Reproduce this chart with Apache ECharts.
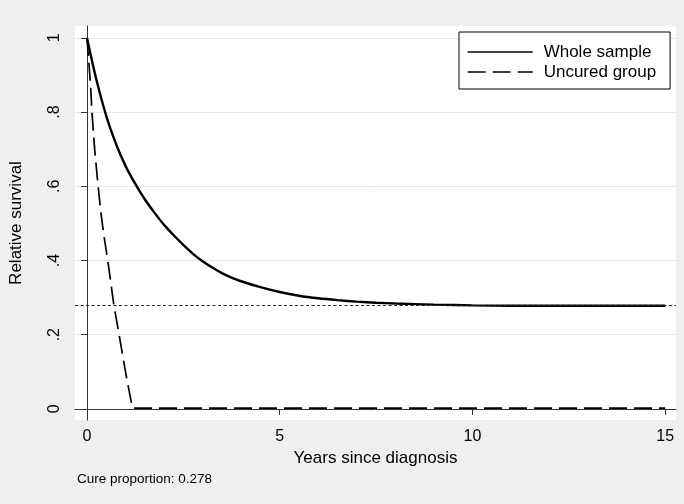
<!DOCTYPE html>
<html>
<head>
<meta charset="utf-8">
<script src="https://cdn.jsdelivr.net/npm/echarts@6/dist/echarts.min.js"></script>
<style>
html,body{margin:0;padding:0;background:#efefef;}
#c{width:684px;height:504px;}
</style>
</head>
<body>
<div id="c"></div>
<script>
// Data
var wholeYears = [0, 0.25, 0.5, 0.75, 1.0, 1.25, 1.5, 1.75, 2.0, 2.25, 2.5, 2.75, 3.0, 3.25, 3.5, 3.75, 4.0, 4.5, 5.0, 5.5, 6.0, 6.5, 7.0, 7.5, 8.0, 9.0, 10.0, 11.0, 12.0, 13.0, 14.0, 15.0];
var wholeSurv  = [1.0, 0.885, 0.79, 0.715, 0.655, 0.607, 0.565, 0.529, 0.496, 0.468, 0.442, 0.418, 0.398, 0.381, 0.366, 0.354, 0.344, 0.328, 0.315, 0.305, 0.298, 0.293, 0.289, 0.286, 0.284, 0.281, 0.279, 0.278, 0.278, 0.278, 0.278, 0.278];
var uncuredYears = [0, 0.03, 0.06, 0.1, 0.13, 0.2, 0.28, 0.36, 0.45, 0.54, 0.62, 0.70, 0.8, 0.9, 1.0, 1.1, 1.18, 3, 6, 9, 12, 15];
var uncuredSurv  = [1.0, 0.96, 0.92, 0.86, 0.80, 0.70, 0.61, 0.53, 0.46, 0.40, 0.34, 0.278, 0.22, 0.16, 0.10, 0.045, 0.002, 0.002, 0.002, 0.002, 0.002, 0.002];
var cureProportion = 0.278;
var xTicks = [0, 5, 10, 15];
var yTicks = [0, 0.2, 0.4, 0.6, 0.8, 1];
var yTickLabels = ["0", ".2", ".4", ".6", ".8", "1"];
var seriesNames = ["Whole sample", "Uncured group"];

function pairs(xs, ys) { return xs.map(function (x, i) { return [x, ys[i]]; }); }

var FONT = "Liberation Sans";
var chart = echarts.init(document.getElementById('c'), null, {renderer: 'canvas'});
chart.setOption({
  backgroundColor: '#efefef',
  animation: false,
  textStyle: {fontFamily: FONT, color: '#000'},
  grid: {left: 74, top: 26, right: 8, bottom: 84, show: true, backgroundColor: '#fff', borderWidth: 0},
  legend: {
    orient: 'vertical', left: 459, top: 32,
    data: seriesNames,
    backgroundColor: '#fff', borderColor: '#000', borderWidth: 1, borderRadius: 0,
    padding: [10, 14, 7, 8],
    itemWidth: 65, itemHeight: 14, itemGap: 0,
    lineStyle: {width: 1.3},
    itemStyle: {opacity: 0},
    textStyle: {fontFamily: FONT, fontSize: 17, color: '#000', lineHeight: 20, padding: [0, 0, 0, 6]}
  },
  xAxis: {
    type: 'value', min: -0.31, max: 15.28,
    name: 'Years since diagnosis', nameLocation: 'middle', nameGap: 27,
    nameTextStyle: {fontFamily: FONT, fontSize: 17, color: '#000', verticalAlign: 'top'},
    axisLine: {show: true, lineStyle: {color: '#333', width: 1}},
    axisTick: {show: true, length: 6, lineStyle: {color: '#333'}, customValues: xTicks},
    axisLabel: {fontFamily: FONT, fontSize: 16, color: '#000', margin: 9, customValues: xTicks},
    splitLine: {show: false}
  },
  yAxis: {
    type: 'value', min: -0.03, max: 1.032,
    name: 'Relative survival', nameLocation: 'middle', nameGap: 50,
    nameTextStyle: {fontFamily: FONT, fontSize: 17, color: '#000'},
    axisLine: {show: true, lineStyle: {color: '#333', width: 1}},
    axisTick: {show: true, length: 6, lineStyle: {color: '#333'}, customValues: yTicks},
    axisLabel: {fontFamily: FONT, fontSize: 16, color: '#000', margin: 12, rotate: 90, customValues: yTicks,
      formatter: function (v) { var i = yTicks.findIndex(function (t) { return Math.abs(t - v) < 1e-9; }); return i >= 0 ? yTickLabels[i] : ''; }},
    splitLine: {show: true, lineStyle: {color: '#e6e6e6', width: 1}}
  },
  series: [
    {
      name: seriesNames[0], type: 'line', data: pairs(wholeYears, wholeSurv),
      showSymbol: false, symbol: 'none', smooth: 0.3,
      lineStyle: {color: '#000', width: 2.4, type: 'solid'},
      itemStyle: {color: '#000'},
      markLine: {
        silent: true, symbol: 'none', label: {show: false},
        lineStyle: {color: '#222', width: 1, type: [3, 2.5]},
        data: [{yAxis: cureProportion}]
      },
      z: 3
    },
    {
      name: seriesNames[1], type: 'line', data: pairs(uncuredYears, uncuredSurv),
      showSymbol: false, symbol: 'none', smooth: false,
      lineStyle: {color: '#000', width: 1.7, type: [18, 7]},
      itemStyle: {color: '#000'},
      z: 2
    }
  ],
  graphic: [
    {type: 'text', left: 77, top: 472, style: {text: 'Cure proportion: ' + cureProportion.toFixed(3), fontFamily: FONT, fontSize: 13.5, fill: '#000'}}
  ]
});
</script>
</body>
</html>
